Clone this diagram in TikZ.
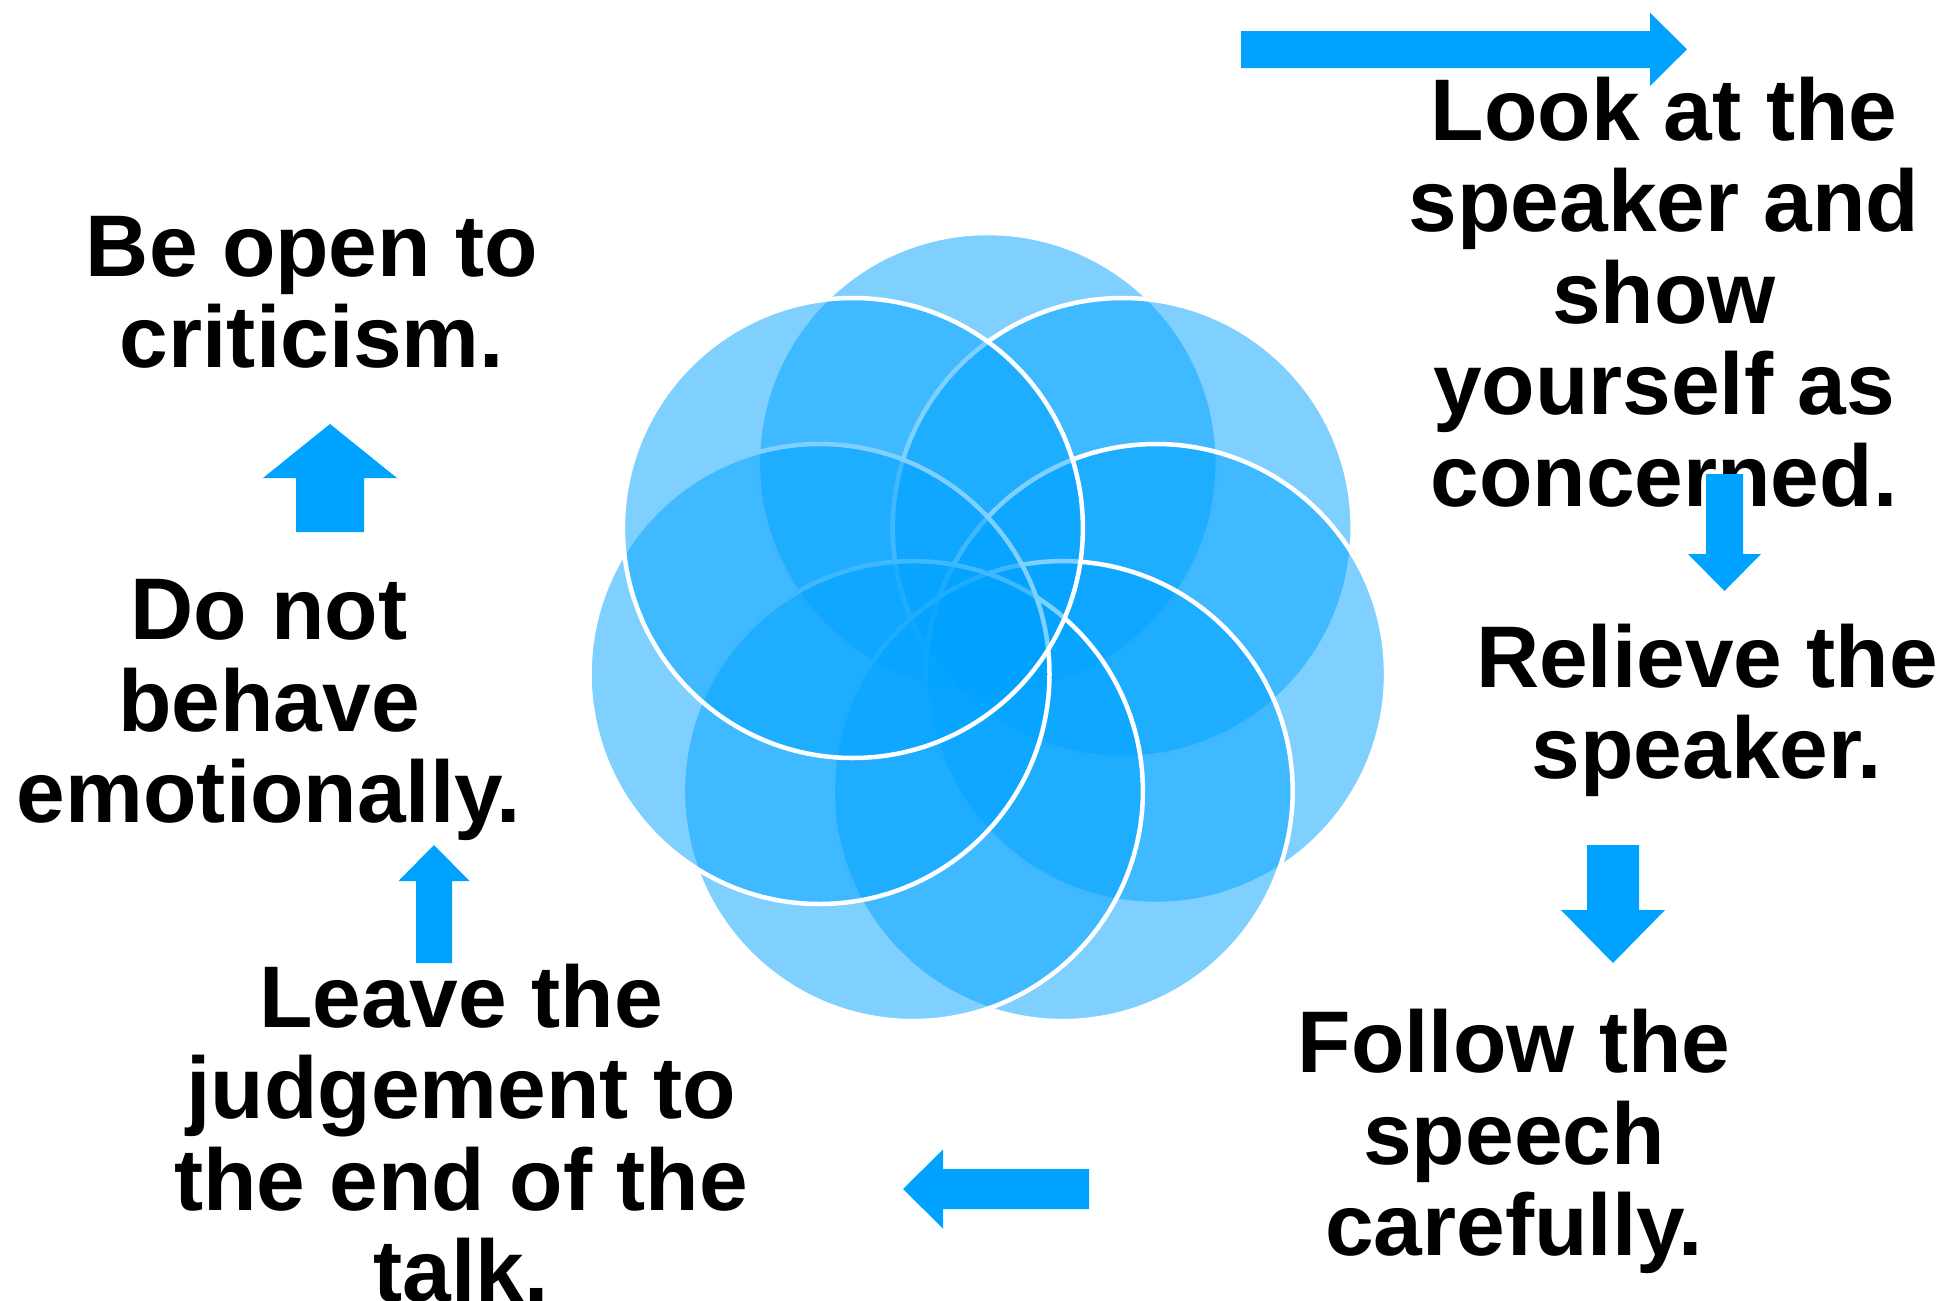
\documentclass[tikz,border=0pt]{standalone}
\usepackage{fontspec}
\setmainfont{Liberation Sans}
\definecolor{ablue}{RGB}{0,162,255}
\newcommand\blk[1]{\vtop{\halign{\hfil##\hfil\cr#1\crcr}}}
\begin{document}
\begin{tikzpicture}[x=1pt,y=-1pt,
  petal/.style={circle,minimum size=460pt,inner sep=0pt,fill=ablue,fill opacity=0.5,draw=white,draw opacity=1,line width=4.5pt},
  txt/.style={anchor=base,inner sep=0pt,font=\fontsize{87.5}{91.5}\selectfont\bfseries,text=black},
  barrow/.style={fill=ablue,draw=none}]
\useasboundingbox (0,0) rectangle (1949,1301);
% rosette of seven circles, drawn clockwise from the top
\node[petal] (cA) at (987.8,463.0) {};
\node[petal] (cC) at (1122.7,528.0) {};
\node[petal] (cD) at (1156.1,674.0) {};
\node[petal] (cE) at (1062.7,791.1) {};
\node[petal] (cF) at (912.9,791.1) {};
\node[petal] (cG) at (819.5,674.0) {};
\node[petal] (cB) at (852.9,528.0) {};
% texts
\node[txt] (t1) at (1664,140) {\blk{Look at the\cr speaker and\cr show\cr yourself as\cr concerned.}};
\node[txt] (t2) at (1707,687) {\blk{Relieve the\cr speaker.}};
\node[txt] (t3) at (1514,1072.5) {\blk{Follow the\cr speech\cr carefully.}};
\node[txt] (t4) at (461,1027) {\blk{Leave the\cr judgement to\cr the end of the\cr talk.}};
\node[txt] (t5) at (269,639.5) {\blk{Do not\cr behave\cr emotionally.}};
\node[txt] (t6) at (312,276.3) {\blk{Be open to\cr criticism.}};
% block arrows
\fill[barrow] (1241,31) -- (1650,31) -- (1650,12.7) -- (1687,49.3) -- (1650,86) -- (1650,68) -- (1241,68) -- cycle;
\fill[barrow] (1706,474) -- (1743,474) -- (1743,554) -- (1761,554) -- (1724.5,591) -- (1688,554) -- (1706,554) -- cycle;
\fill[barrow] (1587,845) -- (1639,845) -- (1639,910) -- (1665,910) -- (1613,963) -- (1561,910) -- (1587,910) -- cycle;
\fill[barrow] (1089,1169) -- (943,1169) -- (943,1149.5) -- (903,1189) -- (943,1228.5) -- (943,1209) -- (1089,1209) -- cycle;
\fill[barrow] (416,963) -- (416,881) -- (398.5,881) -- (434,845) -- (469.5,881) -- (452,881) -- (452,963) -- cycle;
\fill[barrow] (296,532) -- (296,478) -- (263,478) -- (330,424) -- (397,478) -- (364,478) -- (364,532) -- cycle;
\end{tikzpicture}
\end{document}
